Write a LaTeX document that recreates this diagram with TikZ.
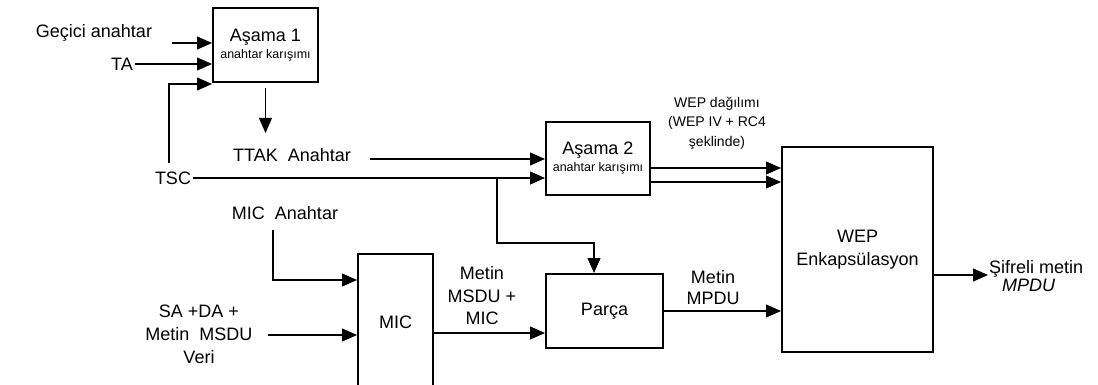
\documentclass[tikz,border=0pt]{standalone}
\usepackage{fontspec}
\setmainfont{Liberation Sans}
\usetikzlibrary{arrows.meta}
\begin{document}
\begin{tikzpicture}[x=1pt,y=-1pt,
  box/.style={draw,line width=2pt,fill=white,inner sep=0pt,align=center,font=\fontsize{18}{19}\selectfont},
  lbl/.style={inner sep=2pt,align=center,font=\fontsize{18}{22}\selectfont},
  small/.style={inner sep=2pt,align=center,font=\fontsize{14}{19.5}\selectfont},
  arr/.style={line width=1.2pt,-{Triangle[length=15pt,width=13pt]}},
  ln/.style={line width=1.2pt}]
\useasboundingbox (0,0) rectangle (1098,385);
\clip (0,0) rectangle (1098,385);
% boxes
\node[box,minimum width=105,minimum height=74] (a1) at (265.5,45)
  {Aşama 1\\[-2pt]{\fontsize{12.5}{13}\selectfont anahtar karışımı}};
\node[box,minimum width=104,minimum height=73] (a2) at (598,158.5)
  {Aşama 2\\[-2pt]{\fontsize{12.5}{13}\selectfont anahtar karışımı}};
\node[box,minimum width=151,minimum height=205,font=\fontsize{18}{23}\selectfont] (wep) at (857.5,249.5)
  {WEP\\Enkapsülasyon};
\node[box,minimum width=117,minimum height=74] (parca) at (604.5,311) {Parça};
\node[box,minimum width=75,minimum height=136] (mic) at (395.5,322) {MIC};
% labels
\node[lbl] (geci) at (94,33) {Geçici anahtar};
\node[lbl] (ta) at (122,64) {TA};
\node[lbl] (tsc) at (173,178) {TSC};
\node[lbl] (ttak) at (292,155) {TTAK~~Anahtar};
\node[lbl] (mick) at (285,213) {MIC~~Anahtar};
\node[lbl,font=\fontsize{18}{23}\selectfont] (sada) at (199,334) {SA +DA +\\Metin~~MSDU\\Veri};
\node[lbl,font=\fontsize{18}{22.5}\selectfont] (msdu) at (482,296) {Metin\\MSDU +\\MIC};
\node[lbl,font=\fontsize{18}{21}\selectfont] (mpdu) at (713,287.5) {Metin\\MPDU};
\node[small] (wepd) at (717,123) {WEP dağılımı\\(WEP IV + RC4\\şeklinde)};
\node[lbl,anchor=west,align=left,font=\fontsize{18}{18.5}\selectfont] (sif) at (987,276)
  {Şifreli metin\\\hspace*{13pt}\textit{MPDU}};
% coordinates
\coordinate (g1) at (172,43);
\coordinate (t1) at (169,84);
\coordinate (t2) at (169,163);
\coordinate (d2) at (265.5,133);
\coordinate (k1) at (370,159);
\coordinate (b1) at (497,178);
\coordinate (b2) at (497,243);
\coordinate (m1) at (273,230);
\coordinate (s1) at (268,335);
\coordinate (o1) at (988,275);
% connectors
\draw[arr] (g1) -- (g1 -| a1.west);
\draw[arr] (ta.east) -- (ta.east -| a1.west);
\draw[arr] (t2) -- (t1) -- (t1 -| a1.west);
\draw[arr] ([yshift=-5pt]a1.south) -- (d2);
\draw[arr] (k1) -- (k1 -| a2.west);
\draw[arr] (tsc.east) -- (tsc.east -| a2.west);
\draw[arr] (b1) -- (b2) -| ([xshift=-10.5pt]parca.north);
\draw[arr] ([yshift=-9.5pt]a2.east) -- ([yshift=-9.5pt]a2.east -| wep.west);
\draw[arr] ([yshift=-23.5pt]a2.east) -- ([yshift=-23.5pt]a2.east -| wep.west);
\draw[arr] (m1) |- ([yshift=-27pt]mic.north west);
\draw[arr] (s1) -- (s1 -| mic.west);
\draw[arr] ([yshift=-22pt]parca.west -| mic.east) -- ([yshift=-22pt]parca.west);
\draw[arr] (parca.east) -- (parca.east -| wep.west);
\draw[arr] ([yshift=-25.5pt]wep.east) -- (o1);
\end{tikzpicture}
\end{document}
